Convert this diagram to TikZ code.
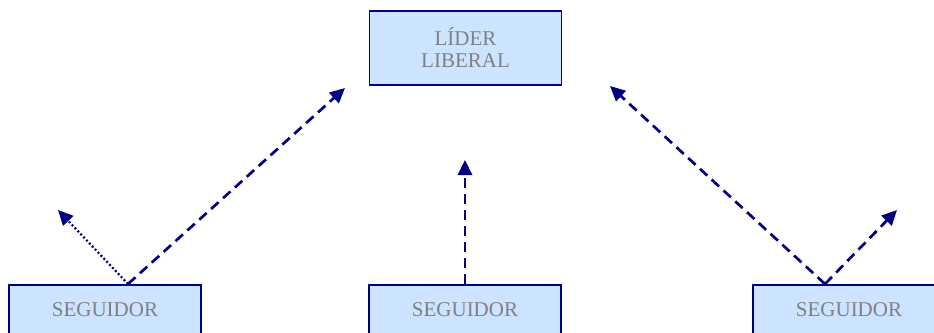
\documentclass[tikz,border=0pt]{standalone}
\usepackage{fontspec}
\setmainfont{Liberation Serif}
\usetikzlibrary{arrows.meta}

\definecolor{navy}{RGB}{0,0,128}
\definecolor{boxblue}{RGB}{204,228,255}
\definecolor{labelgray}{RGB}{128,128,128}

\tikzset{
    box/.style={draw=navy, line width=1.8pt, fill=boxblue, text=labelgray,
        minimum width=192pt, align=center, font=\fontsize{21}{22}\selectfont},
    link/.style={draw=navy, line width=2.7pt, dash pattern=on 10pt off 6pt,
        -{Triangle[length=15pt, width=14pt, fill=navy]}},
    hint/.style={link, line width=2.2pt, dash pattern=on 2pt off 2.2pt}
}

\begin{document}
\begin{tikzpicture}[x=1pt, y=-1pt]
    \useasboundingbox (0, 0) rectangle (934, 332);
    \clip (0, 0) rectangle (934, 332);

    \node [box, minimum height=74pt] (leader) at (465.5, 48) {LÍDER\\LIBERAL};
    \node [box, minimum height=50pt, anchor=north] (fleft) at (105, 284) {SEGUIDOR};
    \node [box, minimum height=50pt, anchor=north] (fmid) at (465, 284) {SEGUIDOR};
    \node [box, minimum height=50pt, anchor=north] (fright) at (849, 284) {SEGUIDOR};

    \coordinate (lfoot) at ([xshift=23pt]fleft.north);
    \coordinate (rfoot) at ([xshift=-24pt]fright.north);
    \coordinate (lend) at (345, 88);
    \coordinate (loose) at (58, 210);
    \coordinate (mend) at (465, 160);
    \coordinate (rend) at (610, 86);
    \coordinate (away) at (897, 210);

    \draw [hint] (lfoot) -- (loose);
    \draw [link] (lfoot) -- (lend);
    \draw [link] (fmid.north) -- (mend);
    \draw [link] (rfoot) -- (rend);
    \draw [link] (rfoot) -- (away);

\end{tikzpicture}
\end{document}
